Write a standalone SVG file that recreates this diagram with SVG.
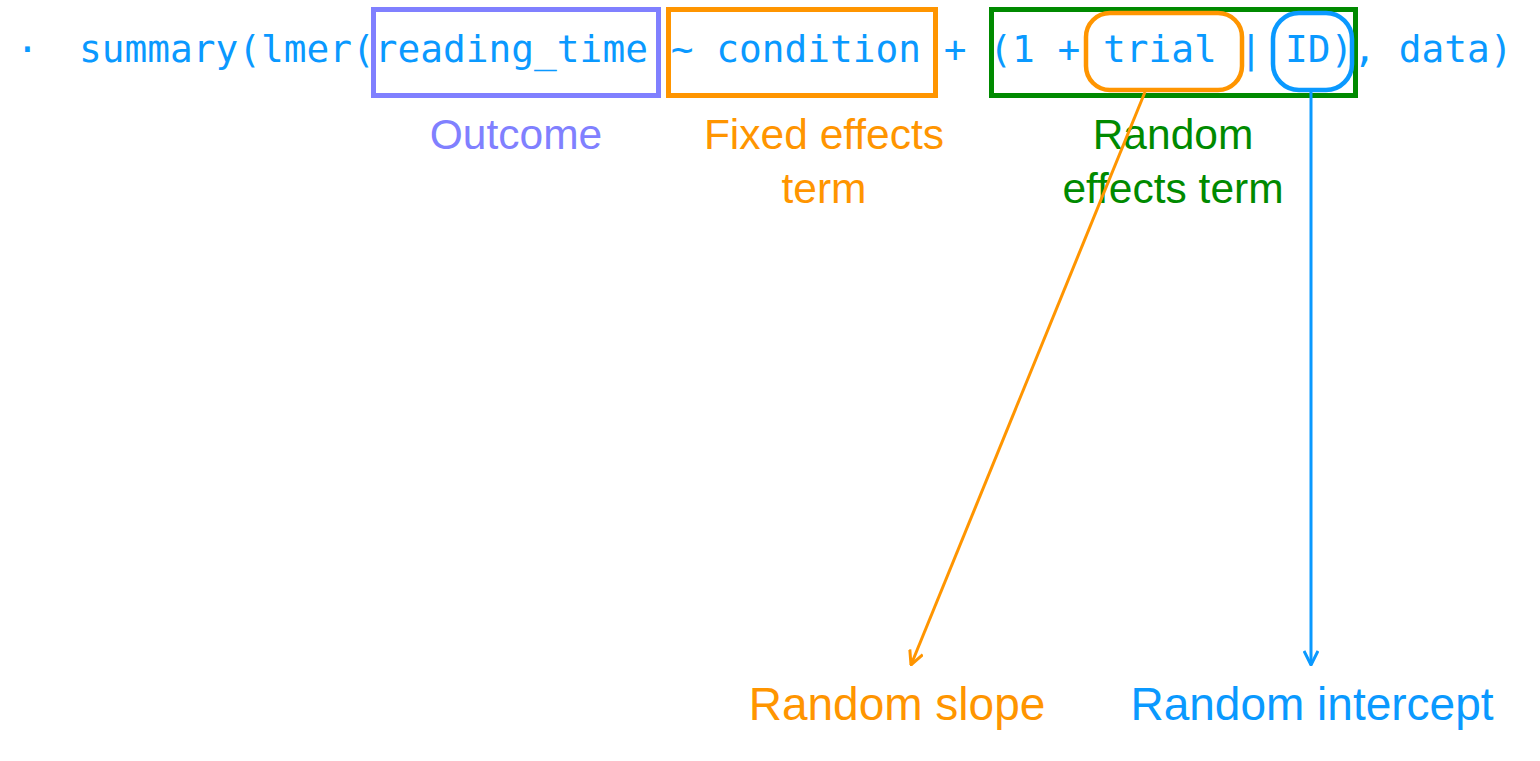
<svg xmlns="http://www.w3.org/2000/svg" width="1540" height="761" viewBox="0 0 1540 761">
<defs>
<style>
.code{font-family:"DejaVu Sans Mono","Liberation Mono",monospace;font-size:37.8px;fill:#0a99ff}
.lbl{font-family:"Liberation Sans",Arial,sans-serif;text-anchor:middle}
.top{font-size:42.5px}
.bot{font-size:46px}
.box{fill:none;stroke-width:5}
.rbox{fill:none;stroke-width:4.5}
.conn{fill:none;stroke-width:3}
</style>
<marker id="aO" viewBox="0 0 16 16" refX="15" refY="8" markerWidth="16" markerHeight="16" markerUnits="userSpaceOnUse" orient="auto">
<path d="M1,1 L15,8 L1,15" fill="none" stroke="#ff9500" stroke-width="3"/>
</marker>
<marker id="aB" viewBox="0 0 16 16" refX="15" refY="8" markerWidth="16" markerHeight="16" markerUnits="userSpaceOnUse" orient="auto">
<path d="M1,1 L15,8 L1,15" fill="none" stroke="#0a99ff" stroke-width="3"/>
</marker>
</defs>
<rect width="1540" height="761" fill="#ffffff"/>
<g id="code">
<text class="code" x="16" y="62">·</text>
<text class="code" x="79" y="62">summary(lmer(reading_time ~ condition + (1 + trial | ID), data)</text>
</g>
<g id="outcome">
<rect class="box" x="373.5" y="9.5" width="285" height="86" stroke="#8080ff"/>
<text class="lbl top" x="516" y="149" fill="#8080ff">Outcome</text>
</g>
<g id="fixed">
<rect class="box" x="668.5" y="9.5" width="267" height="86" stroke="#ff9500"/>
<text class="lbl top" x="824" y="149" fill="#ff9500">Fixed effects</text>
<text class="lbl top" x="824" y="203" fill="#ff9500">term</text>
</g>
<g id="random">
<rect class="box" x="991.5" y="9.5" width="364" height="86" stroke="#008a00"/>
<text class="lbl top" x="1173" y="149" fill="#008a00">Random</text>
<text class="lbl top" x="1173" y="203" fill="#008a00">effects term</text>
</g>
<g id="trial">
<rect class="rbox" x="1086" y="13" width="156" height="77" rx="24" stroke="#ff9500"/>
</g>
<g id="id">
<rect class="rbox" x="1273" y="13" width="79" height="77" rx="26" stroke="#0a99ff"/>
</g>
<g id="connectors">
<line class="conn" x1="1145" y1="92" x2="911" y2="665" stroke="#ff9500" marker-end="url(#aO)"/>
<line class="conn" x1="1311" y1="92" x2="1311" y2="665" stroke="#0a99ff" marker-end="url(#aB)"/>
</g>
<g id="slope">
<text class="lbl bot" x="897" y="720" fill="#ff9500">Random slope</text>
</g>
<g id="intercept">
<text class="lbl bot" x="1312" y="720" fill="#0a99ff">Random intercept</text>
</g>
</svg>
